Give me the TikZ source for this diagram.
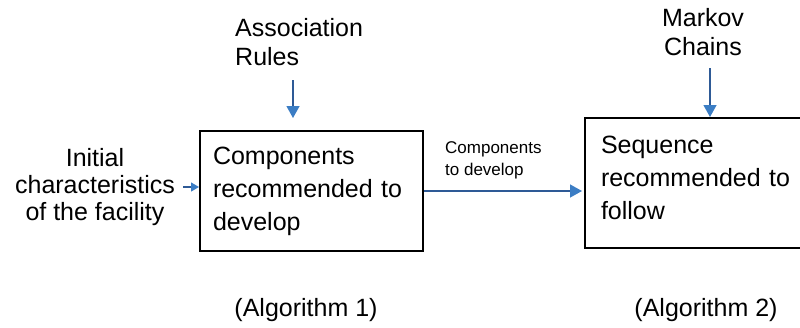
\documentclass[tikz,border=0pt]{standalone}
\usepackage{fontspec}
\setmainfont{Liberation Sans}
\usetikzlibrary{arrows.meta}
\definecolor{linec}{HTML}{2E5A96}
\definecolor{headc}{HTML}{3B7DC4}
\begin{document}
\begin{tikzpicture}[x=1pt,y=-1pt,
  txt/.style={inner sep=0pt, font=\fontsize{25}{29}\selectfont, align=center},
  boxn/.style={draw, line width=2pt, inner ysep=0pt, align=left,
    font=\fontsize{25}{33}\selectfont},
  small/.style={inner sep=0pt, font=\fontsize{17}{22}\selectfont, align=left},
  arr/.style={draw=linec, line width=1.3pt, -{Triangle[length=12pt,width=13pt,color=headc]}},
  arrs/.style={draw=linec, line width=1.3pt, -{Triangle[length=8pt,width=9pt,color=headc]}}]
\useasboundingbox (0,0) rectangle (800,327);

\node[boxn, minimum width=223pt, minimum height=120pt, inner xsep=13pt, text width=197pt]
  (b1) at (311.5,191) {Components\\recommended to\\develop};
\node[boxn, minimum width=216pt, minimum height=130pt, inner xsep=16pt, text width=184pt]
  (b2) at (693,183) {Sequence\\\mbox{recommended to}\\follow\rule[-10pt]{0pt}{10pt}};

\node[txt, align=left, anchor=west] (assoc) at (235,42) {Association\\Rules};
\node[txt] (markov) at (703,32) {Markov\\Chains};
\node[txt, font=\fontsize{25}{27}\selectfont] (init) at (95,187) {Initial\\characteristics\\of the facility};
\node[small, anchor=west] (lab) at (445,160) {Components\\to develop};
\node[txt] (alg1) at (306,310) {(Algorithm 1)};
\node[txt] (alg2) at (706,310) {(Algorithm 2)};

\coordinate (aa) at (293,80);
\coordinate (mk) at (710,68);
\draw[arr, shorten >=12pt] (aa) -- (aa |- b1.north);
\draw[arr] (mk) -- (mk |- b2.north);
\draw[arrs, shorten <=8pt] (init.east) -- (init.east -| b1.west);
\draw[arr, shorten >=2pt] (b1.east) -- (b1.east -| b2.west);
\end{tikzpicture}
\end{document}
